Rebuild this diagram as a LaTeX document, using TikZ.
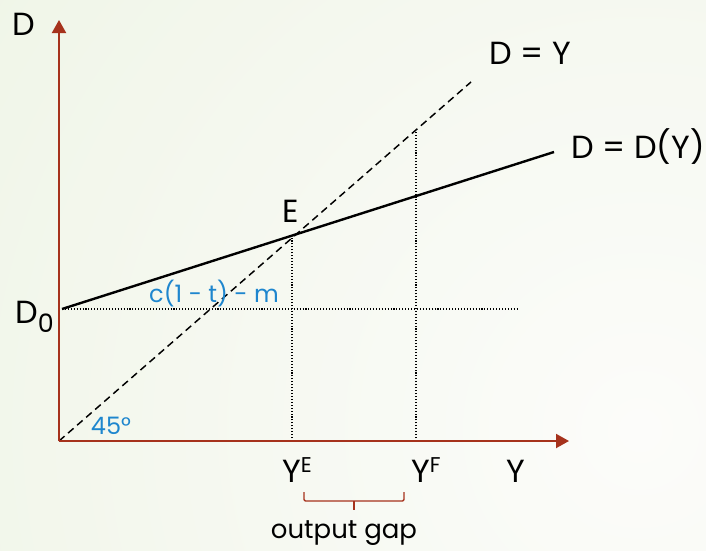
\documentclass[tikz,border=0pt]{standalone}
\usepackage{fontspec}
\setmainfont{Poppins}
\usetikzlibrary{arrows.meta}
\definecolor{axisred}{RGB}{166,50,28}
\definecolor{labelblue}{RGB}{30,134,206}
\definecolor{bgout}{RGB}{232,241,220}
\definecolor{bgin}{RGB}{252,252,250}
\tikzset{
  axis/.style={draw=axisred, line width=1.5pt, -{Triangle[length=9.75pt,width=10.5pt]}},
  curve/.style={draw=black, line width=1.8pt},
  diag/.style={draw=black, line width=1.1pt, dash pattern=on 5.5pt off 3.5pt},
  guide/.style={draw=black, line width=0.8pt, dash pattern=on 0.8pt off 1.4pt},
  biglabel/.style={inner sep=0pt, font=\fontsize{24}{28}\selectfont},
  bluelabel/.style={inner sep=0pt, text=labelblue, font=\fontsize{18}{21}\selectfont},
  gaplabel/.style={inner sep=0pt, font=\fontsize{19.5}{23}\selectfont},
  brace/.style={draw=axisred, line width=1.1pt, rounded corners=1pt}
}
\begin{document}
\begin{tikzpicture}[x=0.75pt, y=-0.75pt]
\useasboundingbox (0,0) rectangle (706,550);
% background
\begin{scope}
  \clip (0,0) rectangle (706,550);
  \fill[bgout] (0,0) rectangle (706,550);
  \shade[inner color=bgin, outer color=bgout] (640,430) circle (1300);
\end{scope}
% key points
\coordinate (O) at (59,441);
\coordinate (ytip) at (59,20);
\coordinate (xtip) at (569,441);
\coordinate (d0) at (62,309);
\coordinate (dyend) at (554,152);
\coordinate (dend) at (471,82);
\coordinate (d0end) at (517,309);
\coordinate (d0start) at (62,309);
\coordinate (ye) at (292,441);
\coordinate (yetop) at (292,235);
\coordinate (yf) at (416,441);
\coordinate (yftop) at (416,131);
% guides
\draw[guide] (d0start) -- (d0end);
\draw[guide] (ye) -- (yetop);
\draw[guide] (yf) -- (yftop);
% 45 degree line
\draw[diag] (O) -- (dend);
% demand line
\draw[curve] (d0) -- (dyend);
% axes
\draw[axis] (O) -- (ytip);
\draw[axis] (O) -- (xtip);
% labels
\node[biglabel, anchor=base] (lD) at (24,35) {D};
\node[biglabel, anchor=base] (lDY) at (530,64) {D = Y};
\node[biglabel, anchor=base] (lDDY) at (638,158) {D = D(Y)};
\node[biglabel, anchor=base] (lE) at (291,222) {E};
\node[biglabel, anchor=base west] (lD0) at (15,323) {D\raisebox{-0.3em}{\fontsize{19}{22}\selectfont 0}};
\node[bluelabel, anchor=base] (lslope) at (214,302) {c(1 - t) - m};
\node[bluelabel, anchor=base] (l45) at (111,434) {45°};
\node[biglabel, anchor=base west] (lYE) at (282,482) {Y\raisebox{0.3em}{\fontsize{16}{19}\selectfont E}};
\node[biglabel, anchor=base west] (lYF) at (411,482) {Y\raisebox{0.3em}{\fontsize{16}{19}\selectfont F}};
\node[biglabel, anchor=base] (lY) at (516,482) {Y};
% output gap brace
\coordinate (bl) at (304,492);
\coordinate (br) at (404,492);
\coordinate (bm) at (354,501);
\coordinate (bt) at (354,510);
\draw[brace] (bl) -- (bl |- bm) -- (br |- bm) -- (br);
\draw[brace] (bm) -- (bt);
\node[gaplabel, anchor=base] (lgap) at (344,538) {output gap};
\end{tikzpicture}
\end{document}
